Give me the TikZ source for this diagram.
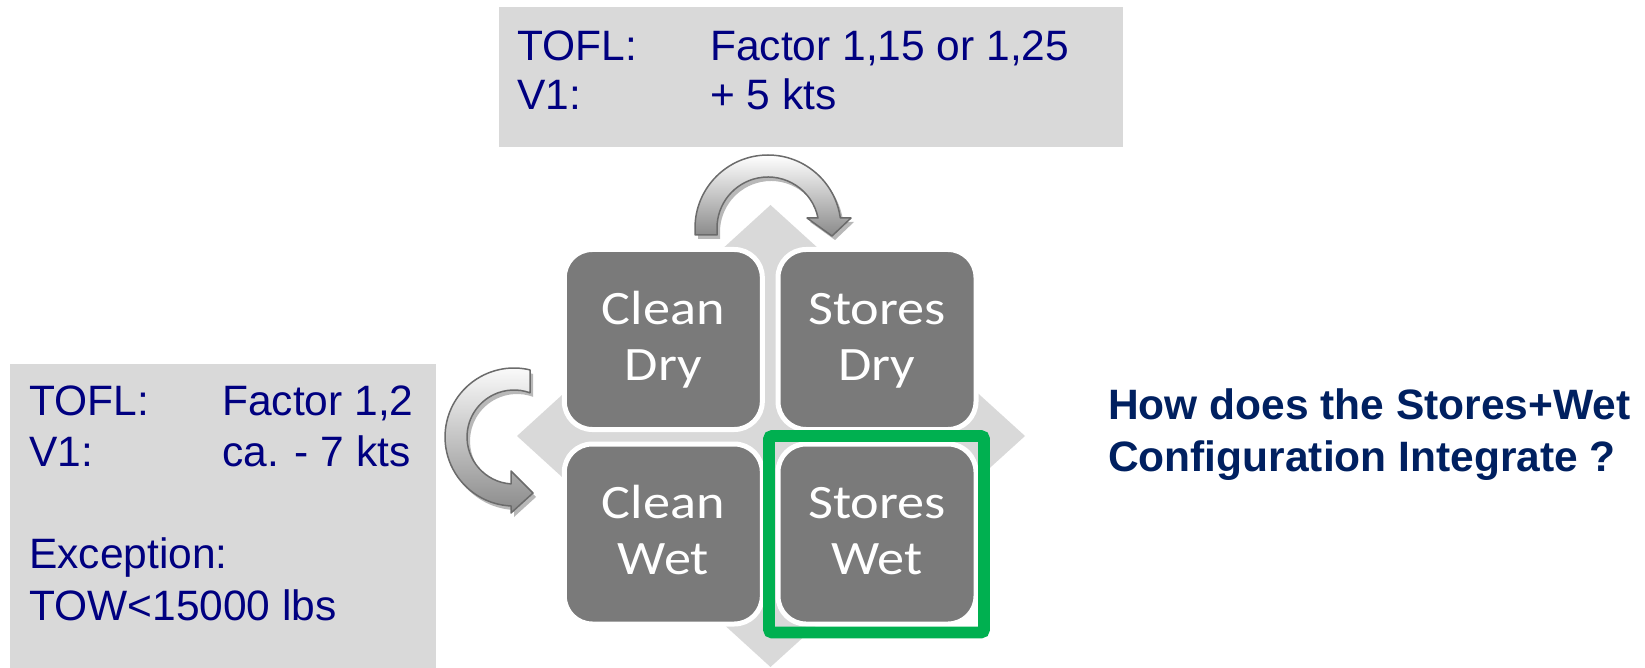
\documentclass[tikz,border=0pt]{standalone}
\usepackage{fontspec}
\setmainfont{Liberation Sans}
\newfontfamily\boxfont{Liberation Sans}
\newfontfamily\sqfont[FakeStretch=1.13]{Carlito}
\usetikzlibrary{calc}
\definecolor{boxgray}{HTML}{D9D9D9}
\definecolor{diagray}{HTML}{D9D9D9}
\definecolor{sqgray}{HTML}{7A7A7A}
\definecolor{hlgreen}{HTML}{00B050}
\definecolor{navytext}{HTML}{000080}
\definecolor{qtext}{HTML}{002060}
\definecolor{arrowline}{HTML}{6B6B6B}
\definecolor{arrowdark}{HTML}{8A8A8A}
\definecolor{shadowgray}{HTML}{B8B8B8}
\tikzset{
  sq/.style={draw=white, line width=5, fill=sqgray, rounded corners=28,
    minimum width=198, minimum height=180, inner sep=0, text=white,
    font=\sqfont\fontsize{48}{56}\selectfont, align=center},
  boxtxt/.style={anchor=base west, inner sep=0, text=navytext,
    font=\boxfont\fontsize{42.5}{50}\selectfont},
  qtxt/.style={anchor=base west, inner sep=0, text=qtext,
    font=\boxfont\bfseries\fontsize{42.5}{50}\selectfont},
  arrowbody/.style={draw=arrowline, line width=1.5, top color=white, bottom color=arrowdark, line join=round},
  arrowshadow/.style={fill=shadowgray},
}
\begin{document}
\begin{tikzpicture}[x=1pt,y=-1pt]
\useasboundingbox (0,0) rectangle (1645,668);
% text boxes
\fill[boxgray] (499,7) rectangle (1122.5,147.5);
\fill[boxgray] (10,364) rectangle (436,668);
% diamond
\fill[diagray] (770.5,205) -- (1025,436) -- (770.5,667) -- (517,436) -- cycle;
% squares
\node[sq] (cd) at (663.3,339.5) {Clean\vphantom{l}\\Dry\vphantom{y}};
\node[sq] (sd) at (877,339.5) {Stores\vphantom{l}\\Dry\vphantom{y}};
\node[sq] (cw) at (663.3,534) {Clean\vphantom{l}\\Wet\vphantom{y}};
\node[sq] (sw) at (877,534) {Stores\vphantom{l}\\Wet\vphantom{y}};
% highlight
\node[draw=hlgreen, line width=11.7, rounded corners=3, minimum width=215, minimum height=196.5, inner sep=0] (hl) at (876.5,534.25) {};
% top curved arrow (shadow + body)
\path[arrowshadow, shift={(3,4)}] (695,235) -- (695,228) arc[start angle=180, end angle=352.1, radius=73] -- (851,218) -- (832,236) -- (807,218) -- (818,218) arc[start angle=-11.3, end angle=-180, radius=51] -- (717,235) -- cycle;
\path[arrowbody] (695,235) -- (695,228) arc[start angle=180, end angle=352.1, radius=73] -- (851,218) -- (832,236) -- (807,218) -- (818,218) arc[start angle=-11.3, end angle=-180, radius=51] -- (717,235) -- cycle;
% left curved arrow (shadow + body)
\path[arrowshadow, shift={(3,4)}] (530,369.9) arc[start angle=-76.6, end angle=-267.5, radius=69] -- (511,513) -- (533,493) -- (511,471) -- (511,483.9) arc[start angle=-266.3, end angle=-70.1, radius=47] -- cycle;
\path[arrowbody] (530,369.9) arc[start angle=-76.6, end angle=-267.5, radius=69] -- (511,513) -- (533,493) -- (511,471) -- (511,483.9) arc[start angle=-266.3, end angle=-70.1, radius=47] -- cycle;
% top box text
\node[boxtxt] (t1) at (517,61) {TOFL:};
\node[boxtxt] (t2) at (710,61) {Factor 1,15 or 1,25};
\node[boxtxt] (t3) at (517,110) {V1:};
\node[boxtxt] (t4) at (710,110) {+ 5 kts};
% left box text
\node[boxtxt] (l1) at (29,415) {TOFL:};
\node[boxtxt] (l2) at (222,415) {Factor 1,2};
\node[boxtxt] (l3) at (29,466) {V1:};
\node[boxtxt] (l4) at (222,466) {ca. - 7 kts};
\node[boxtxt] (l5) at (29,568) {Exception:};
\node[boxtxt] (l6) at (29,620) {TOW<15000 lbs};
% question
\node[qtxt] (q1) at (1108,419) {How does the Stores+Wet};
\node[qtxt] (q2) at (1108,471) {Configuration Integrate ?};
\end{tikzpicture}
\end{document}
